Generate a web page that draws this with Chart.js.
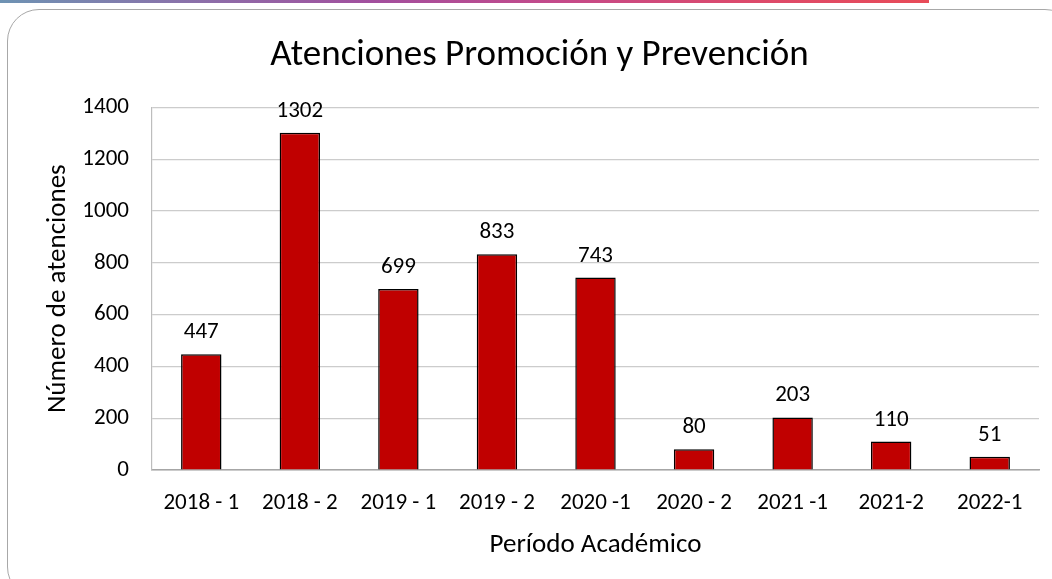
<!DOCTYPE html>
<html>
<head>
<meta charset="utf-8">
<script src="https://cdn.jsdelivr.net/npm/chart.js@4"></script>
<style>
html,body{margin:0;padding:0;background:#fff;width:1052px;height:579px;overflow:hidden;position:relative;}
#topbar{position:absolute;left:0;top:0;width:929px;height:3px;background:linear-gradient(90deg,#6e93b3 0%,#8a72aa 20%,#a24f9e 40%,#c44a8a 60%,#dc4a6c 80%,#e84b58 100%);}
#card{position:absolute;left:7px;top:9px;width:1070px;height:590px;border:1.5px solid #a8a8a8;border-radius:32px;box-sizing:border-box;}
#wrap{position:absolute;left:0;top:0;width:1052px;height:579px;}
</style>
</head>
<body>
<div id="topbar"></div>
<div id="card"></div>
<div id="wrap"><canvas id="c" width="1052" height="579"></canvas></div>
<script>
const categories = ["2018 - 1","2018 - 2","2019 - 1","2019 - 2","2020 -1","2020 - 2","2021 -1","2021-2","2022-1"];
const values = [447,1302,699,833,743,80,203,110,51];
const yTicks = [0,200,400,600,800,1000,1200,1400];
const chartTitle = "Atenciones Promoción y Prevención";
const xTitle = "Período Académico";
const yTitle = "Número de atenciones";

const FONT = "Carlito, Lato, 'Liberation Sans', sans-serif";

const valueLabels = {
  id:'valueLabels',
  afterDatasetsDraw(chart){
    const ctx = chart.ctx;
    const meta = chart.getDatasetMeta(0);
    ctx.save();
    ctx.font = "23px " + FONT;
    ctx.fillStyle = "#000";
    ctx.textAlign = "center";
    ctx.textBaseline = "alphabetic";
    meta.data.forEach((bar,i)=>{
      ctx.fillText(String(values[i]), bar.x, bar.y - 16);
    });
    ctx.restore();
  }
};

new Chart(document.getElementById('c'),{
  type:'bar',
  data:{labels:categories,datasets:[{data:values,backgroundColor:'#c00000',borderColor:'#000',borderWidth:1.5,barPercentage:0.41,categoryPercentage:1.0}]},
  options:{
    responsive:false,animation:false,
    layout:{padding:{left:40,right:13,top:0,bottom:0}},
    plugins:{
      legend:{display:false},tooltip:{enabled:false},
      title:{display:true,text:chartTitle,color:'#000',font:{family:FONT,size:37,weight:'normal'},padding:{top:34,bottom:29}}
    },
    scales:{
      x:{
        grid:{display:false,drawTicks:false},
        border:{display:true,color:'#a6a6a6',width:1.5},
        ticks:{color:'#000',font:{family:FONT,size:23},padding:19,maxRotation:0,autoSkip:false},
        title:{display:true,text:xTitle,color:'#000',font:{family:FONT,size:27},padding:{top:0,bottom:18}},
        afterFit(s){s.height=109;}
      },
      y:{
        min:0,max:1400,
        afterBuildTicks(s){s.ticks=yTicks.map(v=>({value:v}));},
        grid:{color:'#cccccc',lineWidth:1.2,drawTicks:false},
        border:{display:true,color:'#bdbdbd',width:1.2},
        ticks:{color:'#000',font:{family:FONT,size:23},padding:23,callback:(v)=>String(v)},
        title:{display:true,text:yTitle,color:'#000',font:{family:FONT,size:27},padding:{top:2,bottom:0}},
        afterFit(s){s.width=112;}
      }
    }
  },
  plugins:[valueLabels]
});
</script>
</body>
</html>
